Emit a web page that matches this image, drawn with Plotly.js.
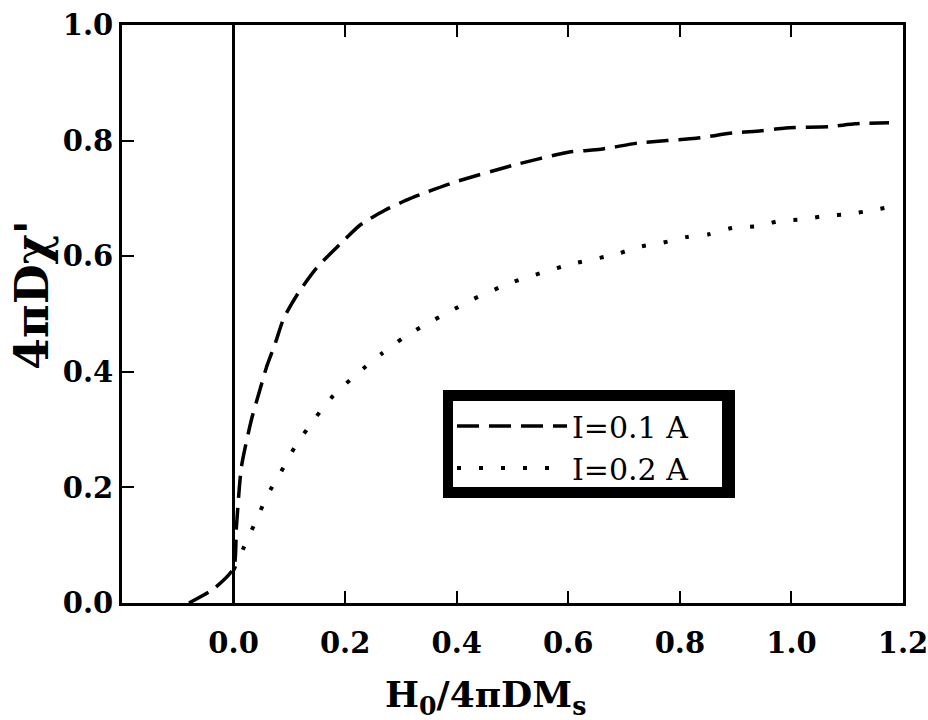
<!DOCTYPE html>
<html>
<head>
<meta charset="utf-8">
<script src="https://cdn.plot.ly/plotly-3.0.1.min.js"></script>
<style>html,body{margin:0;padding:0;background:#fff}</style>
</head>
<body>
<div id="chart" style="width:928px;height:720px"></div>
<script>
// Data
var seriesNames = ["I=0.1 A", "I=0.2 A"];
var x1 = [-0.08, -0.035, 0.0, 0.005, 0.014, 0.032, 0.047, 0.059, 0.075, 0.09, 0.117, 0.15, 0.19, 0.227, 0.272, 0.317, 0.396, 0.5, 0.6, 0.658, 0.726, 0.777, 0.829, 0.894, 0.946, 0.99, 1.068, 1.114, 1.175];
var y1 = [0.0, 0.025, 0.06, 0.13, 0.235, 0.317, 0.368, 0.408, 0.45, 0.493, 0.538, 0.581, 0.62, 0.654, 0.68, 0.70, 0.728, 0.757, 0.78, 0.785, 0.796, 0.80, 0.804, 0.813, 0.817, 0.822, 0.824, 0.829, 0.831];
var x2 = [0.0, 0.022, 0.041, 0.061, 0.085, 0.11, 0.144, 0.178, 0.223, 0.265, 0.306, 0.348, 0.389, 0.43, 0.5, 0.6, 0.688, 0.726, 0.768, 0.811, 0.852, 0.894, 0.939, 0.978, 1.022, 1.063, 1.103, 1.148, 1.175];
var y2 = [0.057, 0.104, 0.144, 0.187, 0.227, 0.27, 0.317, 0.358, 0.398, 0.431, 0.46, 0.484, 0.505, 0.526, 0.555, 0.585, 0.604, 0.616, 0.623, 0.633, 0.638, 0.649, 0.652, 0.661, 0.664, 0.67, 0.673, 0.68, 0.685];
var xTicks = [0, 0.2, 0.4, 0.6, 0.8, 1.0, 1.2];
var xTickText = ["0.0", "0.2", "0.4", "0.6", "0.8", "1.0", "1.2"];
var yTicks = [0, 0.2, 0.4, 0.6, 0.8, 1.0];
var yTickText = ["0.0", "0.2", "0.4", "0.6", "0.8", "1.0"];
var xTitle = "H<sub>0</sub>/4πDM<sub>s</sub>";
var yTitle = "4πDχ'";

var FONT = "DejaVu Serif";
var L = 122, R = 903, T = 25, B = 603;
function px(p) { return (p - L) / (R - L); }
function py(p) { return (B - p) / (B - T); }

var traces = [
  {x: x1, y: y1, name: seriesNames[0], mode: "lines",
   line: {color: "#000", width: 3.5, dash: "22px,10px", shape: "spline", smoothing: 0.6}},
  {x: x2, y: y2, name: seriesNames[1], mode: "lines",
   line: {color: "#000", width: 4, dash: "4px,18px", shape: "spline", smoothing: 0.6}}
];

var layout = {
  width: 928, height: 720,
  margin: {l: L, r: 928 - R, t: T, b: 720 - B},
  paper_bgcolor: "#fff", plot_bgcolor: "#fff",
  showlegend: true,
  font: {family: FONT, color: "#000"},
  xaxis: {
    range: [-0.2, 1.2], tickvals: xTicks, ticktext: xTickText,
    ticks: "inside", ticklen: 12, tickwidth: 2, tickcolor: "#000",
    showline: true, linewidth: 3, linecolor: "#000", mirror: "ticks",
    showgrid: false, zeroline: true, zerolinewidth: 3, zerolinecolor: "#000",
    tickfont: {family: FONT, size: 29, weight: "bold", color: "#000"},
    ticklabelstandoff: 12, ticklabeloverflow: "allow",
    automargin: false
  },
  yaxis: {
    range: [0, 1], tickvals: yTicks, ticktext: yTickText,
    ticks: "inside", ticklen: 12, tickwidth: 2, tickcolor: "#000",
    showline: true, linewidth: 3, linecolor: "#000", mirror: true,
    showgrid: false, zeroline: false,
    tickfont: {family: FONT, size: 29, weight: "bold", color: "#000"},
    ticklabeloverflow: "allow",
    automargin: false
  },
  annotations: [
    {text: xTitle, xref: "paper", yref: "paper", x: px(485), y: py(697), xanchor: "center", yanchor: "middle",
     showarrow: false, font: {family: FONT, size: 36, weight: "bold", color: "#000"}},
    {text: yTitle, xref: "paper", yref: "paper", x: px(32), y: py(295), xanchor: "center", yanchor: "middle",
     textangle: -90, showarrow: false, font: {family: FONT, size: 46, weight: "bold", color: "#000"}}
  ],
  legend: {
    x: px(452), y: py(400), xanchor: "left", yanchor: "top",
    bgcolor: "rgba(0,0,0,0)", borderwidth: 0, itemwidth: 110,
    font: {family: FONT, size: 30, color: "#000"},
    tracegroupgap: 0
  },
  shapes: [
    {type: "rect", xref: "paper", yref: "paper", x0: px(443), x1: px(735), y0: py(498), y1: py(390),
     fillcolor: "#000", line: {width: 0}, layer: "below"},
    {type: "rect", xref: "paper", yref: "paper", x0: px(453), x1: px(722), y0: py(487), y1: py(401),
     fillcolor: "#fff", line: {width: 0}, layer: "below"}
  ]
};

Plotly.newPlot("chart", traces, layout, {displayModeBar: false, staticPlot: true});
</script>
</body>
</html>
